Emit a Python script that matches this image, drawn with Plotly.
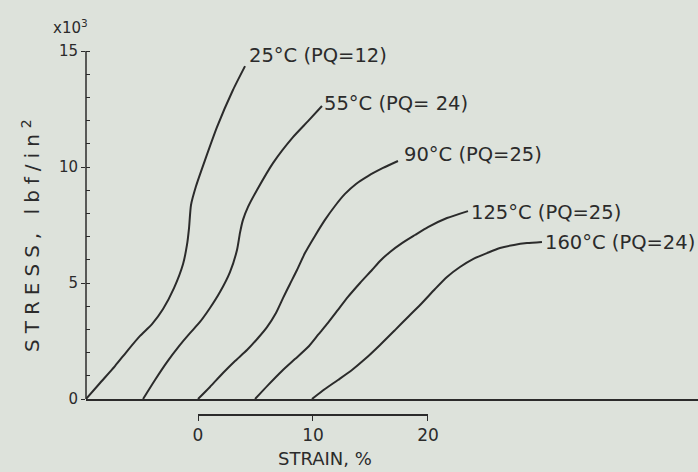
import plotly.graph_objects as go

# ---- data (strain %, on the figure's shifted strain axis; stress x10^3 lbf/in^2)
strain_25 = [-9.74, -8.52, -7.22, -6.09, -5.04, -4.00, -3.04, -2.09, -1.30, -0.96, -0.78, -0.61, -0.17, 0.61, 1.65, 3.04, 4.09]
stress_25 = [0.0, 0.69, 1.42, 2.11, 2.72, 3.23, 3.88, 4.78, 5.82, 6.64, 7.37, 8.36, 9.18, 10.30, 11.72, 13.32, 14.35]

strain_55 = [-4.78, -3.74, -2.70, -1.65, -0.70, 0.17, 1.04, 1.91, 2.78, 3.39, 3.65, 3.91, 4.35, 5.13, 6.52, 8.26, 9.57, 10.78]
stress_55 = [0.0, 0.82, 1.59, 2.28, 2.84, 3.32, 3.92, 4.61, 5.47, 6.42, 7.16, 7.72, 8.28, 9.01, 10.17, 11.29, 11.98, 12.63]

strain_90 = [0.0, 1.04, 2.17, 3.22, 4.26, 5.22, 6.00, 6.78, 7.39, 8.00, 8.61, 9.30, 10.17, 11.04, 11.91, 12.78, 13.74, 14.78, 16.09, 17.39]
stress_90 = [0.0, 0.52, 1.12, 1.64, 2.11, 2.63, 3.10, 3.71, 4.35, 4.96, 5.56, 6.29, 7.03, 7.72, 8.32, 8.84, 9.27, 9.61, 9.96, 10.26]

strain_125 = [4.96, 6.09, 7.30, 8.43, 9.57, 10.43, 11.30, 12.17, 13.04, 14.09, 15.13, 15.83, 16.70, 17.74, 18.87, 20.00, 21.65, 23.48]
stress_125 = [0.0, 0.60, 1.21, 1.72, 2.24, 2.76, 3.28, 3.84, 4.40, 5.00, 5.56, 5.95, 6.34, 6.72, 7.07, 7.41, 7.80, 8.10]

strain_160 = [9.91, 11.04, 12.17, 13.39, 14.52, 15.83, 17.13, 18.35, 19.48, 20.61, 21.65, 22.78, 23.91, 25.13, 26.26, 27.48, 28.61, 29.91]
stress_160 = [0.0, 0.43, 0.82, 1.25, 1.72, 2.33, 2.97, 3.58, 4.14, 4.74, 5.26, 5.69, 6.03, 6.29, 6.51, 6.64, 6.72, 6.77]

curve_labels = ["25°C (PQ=12)", "55°C (PQ= 24)", "90°C (PQ=25)", "125°C (PQ=25)", "160°C (PQ=24)"]

stress_ticks = [0, 5, 10, 15]
stress_minor = [1, 2, 3, 4, 6, 7, 8, 9, 11, 12, 13, 14]
strain_ticks = [0, 10, 20]
strain_scale = [0, 20]

# ---- style
BG = "#dde2db"
INK = "#2b2b2b"
FONT = "DejaVu Sans"
X_RANGE = [-9.74, 43.48]
Y_RANGE = [0, 15.82]

curves = [
    (strain_25, stress_25, 2, 11),
    (strain_55, stress_55, 0, 3),
    (strain_90, stress_90, 4, 6),
    (strain_125, stress_125, 1, -1),
    (strain_160, stress_160, 1, -1),
]

fig = go.Figure()
annotations = []
for (xs, ys, dx, dy), lab in zip(curves, curve_labels):
    fig.add_trace(go.Scatter(
        x=xs, y=ys, mode="lines",
        line=dict(color=INK, width=2, shape="spline", smoothing=0.6),
        showlegend=False, hoverinfo="skip", cliponaxis=False,
    ))
    annotations.append(dict(
        x=xs[-1], y=ys[-1], xref="x", yref="y", text=lab, showarrow=False,
        xanchor="left", yanchor="middle", xshift=dx, yshift=dy,
        font=dict(family=FONT, size=19.5, color=INK),
    ))

# dummy trace so the strain scale axis is drawn
fig.add_trace(go.Scatter(x=strain_scale, y=[None, None], xaxis="x2", yaxis="y",
                         mode="lines", showlegend=False, hoverinfo="skip"))

span = X_RANGE[1] - X_RANGE[0]
d0 = (strain_scale[0] - X_RANGE[0]) / span
d1 = (strain_scale[1] - X_RANGE[0]) / span

annotations += [
    dict(x=-0.026, y=1.0125, xref="paper", yref="paper", text="x10<sup>3</sup>",
         showarrow=False, xanchor="center", yanchor="middle",
         font=dict(family=FONT, size=15, color=INK)),
    dict(x=-0.0899, y=0.5, xref="paper", yref="paper", text="STRESS, lbf/in<sup>2</sup>",
         textangle=-90, showarrow=False, xanchor="center", yanchor="middle",
         font=dict(family=FONT, size=20, color=INK)),
    dict(x=11.0, y=-0.065, xref="x", yref="paper", text="STRAIN, %",
         showarrow=False, xanchor="center", yanchor="middle",
         font=dict(family=FONT, size=18, color=INK)),
]

fig.update_layout(
    width=698, height=472, autosize=False,
    margin=dict(l=86, r=0, t=32, b=40, pad=0, autoexpand=False),
    paper_bgcolor=BG, plot_bgcolor="rgba(0,0,0,0)",
    showlegend=False,
    annotations=annotations,
    shapes=[dict(type="line", xref="x domain", yref="y", x0=0, x1=0, y0=0, y1=15,
                 line=dict(color=INK, width=1.5))],
    xaxis=dict(range=X_RANGE, showline=True, linecolor=INK, linewidth=1.5,
               showticklabels=False, ticks="", showgrid=False, zeroline=False,
               anchor="y", automargin=False),
    yaxis=dict(range=Y_RANGE, domain=[0.0825, 1], anchor="x", automargin=False,
               showline=False, showgrid=False, zeroline=False,
               tickvals=stress_ticks, ticks="outside", ticklen=4, tickwidth=1.3,
               tickcolor=INK, ticklabelstandoff=0,
               tickfont=dict(family=FONT, size=15, color=INK),
               minor=dict(tickvals=stress_minor + stress_ticks, ticks="inside",
                          ticklen=4, tickwidth=1.2, tickcolor=INK)),
    xaxis2=dict(range=strain_scale, domain=[d0, d1], anchor="free", position=0.0425,
                automargin=False,
                showline=True, linecolor=INK, linewidth=1.5, showgrid=False,
                zeroline=False, tickvals=strain_ticks, ticks="outside", ticklen=5,
                tickwidth=1.3, tickcolor=INK,
                tickfont=dict(family=FONT, size=17, color=INK)),
)

post = """
document.documentElement.style.margin='0';
document.documentElement.style.overflow='hidden';
document.body.style.margin='0';
document.body.style.overflow='hidden';
document.querySelectorAll('.annotation-text').forEach(function(t){
  if (t.textContent.indexOf('STRESS') === 0) { t.style.letterSpacing = '6px'; }
});
"""

fig.write_html("out.html", post_script=post,
               config={"displayModeBar": False, "responsive": False})
